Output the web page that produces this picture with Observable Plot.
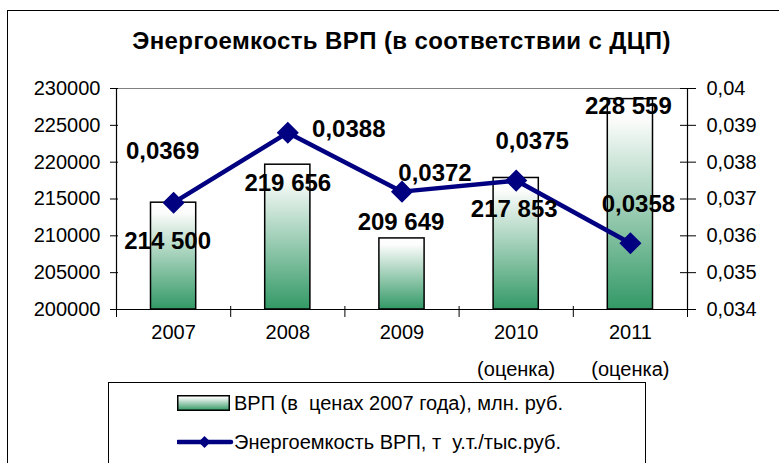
<!DOCTYPE html>
<html><head><meta charset="utf-8">
<script src="https://cdn.jsdelivr.net/npm/d3@7"></script>
<script src="https://cdn.jsdelivr.net/npm/@observablehq/plot@0.6"></script>
<style>
body{margin:0;background:#fff;font-family:"Liberation Sans",Arial,sans-serif;}
#wrap{position:relative;width:779px;height:463px;overflow:hidden;background:#fff;}
#frame{position:absolute;left:7px;top:10px;width:800px;height:500px;border:1.5px solid #000;box-sizing:border-box;pointer-events:none;}
#title{position:absolute;left:0;top:29px;width:803px;text-align:center;font-weight:bold;font-size:24px;letter-spacing:0.4px;line-height:24px;color:#000;}
#chart{position:absolute;left:0;top:0;}
#legend{position:absolute;left:108px;top:382px;width:538px;height:120px;border:1px solid #000;box-sizing:border-box;background:#fff;}
.item{position:absolute;left:68px;height:20px;display:flex;align-items:center;font-size:20px;white-space:pre;color:#000;}
</style></head>
<body>
<svg width="0" height="0" style="position:absolute">
  <defs>
    <linearGradient id="barGrad" x1="0" y1="0" x2="0" y2="1">
      <stop offset="0" stop-color="#ffffff"/>
      <stop offset="0.1" stop-color="#fbfcfb"/>
      <stop offset="1" stop-color="#339966"/>
    </linearGradient>
  </defs>
</svg>
<div id="wrap">
  <div id="chart"></div>
  <div id="title">Энергоемкость ВРП (в соответствии с ДЦП)</div>
  <div id="legend">
    <div class="item" style="top:10px"><svg width="57" height="16"><rect x="0.75" y="0.75" width="51.5" height="14.5" fill="url(#barGrad)" stroke="#000" stroke-width="1.5"/></svg><span>ВРП (в  ценах 2007 года), млн. руб.</span></div>
    <div class="item" style="top:49px"><svg width="57" height="20"><line x1="1" y1="10" x2="54" y2="10" stroke="#000080" stroke-width="4.5" stroke-linecap="round"/><path d="M27.5,4 L33.5,10 L27.5,16 L21.5,10 Z" fill="#000080"/></svg><span>Энергоемкость ВРП, т  у.т./тыс.руб.</span></div>
  </div>
  <div id="frame"></div>
</div>
<script>
const categories = ["2007", "2008", "2009", "2010\n(оценка)", "2011\n(оценка)"];
const grp = [214500, 219656, 209649, 217853, 228559];
const energy = [0.0369, 0.0388, 0.0372, 0.0375, 0.0358];
const leftTicks = [200000, 205000, 210000, 215000, 220000, 225000, 230000];
const rightTicks = [0.034, 0.035, 0.036, 0.037, 0.038, 0.039, 0.04];
// label nudges (pixels) as in the reference's manually placed labels
const barLabelNudge = [[-6, 39], [0, 19], [-1, -16], [-2, 31], [-2, 7]];
const lineLabelNudge = [[-11, -51], [61, -3], [33, -18], [16, -39], [8, -39]];

const rows = categories.map((c, i) => ({i, c, grp: grp[i], e: energy[i]}));
const y0 = leftTicks[0], y1 = leftTicks[leftTicks.length - 1];
const e0 = rightTicks[0], e1 = rightTicks[rightTicks.length - 1];
const toLeft = v => y0 + (v - e0) / (e1 - e0) * (y1 - y0);
const toRight = v => e0 + (v - y0) / (y1 - y0) * (e1 - e0);
const fmtRight = v => String(+v.toFixed(4)).replace(".", ",");
const fmtGrp = v => d3.format(",")(v).replace(/,/g, " ");
const fmtE = v => String(v).replace(".", ",");
const n = categories.length;

const chart = Plot.plot({
  width: 779,
  height: 463,
  marginLeft: 116,
  marginRight: 92,
  marginTop: 88,
  marginBottom: 154,
  style: {background: "transparent", fontFamily: "'Liberation Sans', Arial, sans-serif", fontSize: "20px", color: "#000"},
  x: {domain: [0, n], label: null},
  y: {domain: [y0, y1], label: null},
  marks: [
    Plot.ruleY([y1], {stroke: "#808080", strokeWidth: 1}),
    Plot.rectY(rows, {x1: d => d.i, x2: d => d.i + 1, y1: () => y0, y2: "grp", insetLeft: 34.5, insetRight: 34.5, fill: "url(#barGrad)", stroke: "#000", strokeWidth: 1.5}),
    Plot.ruleX([0, n], {stroke: "#000", strokeWidth: 1.2}),
    Plot.ruleY([y0], {stroke: "#000", strokeWidth: 1.2}),
    Plot.axisY(leftTicks, {anchor: "left", tickSize: 8, dx: 2, tickPadding: 10, fontSize: 20, tickFormat: d => String(d), label: null}),
    Plot.axisY(rightTicks.map(toLeft), {anchor: "right", tickSize: 16, dx: -8, tickPadding: 11, fontSize: 20, tickFormat: d => fmtRight(toRight(d)), label: null}),
    Plot.axisX(d3.range(n + 1), {anchor: "bottom", tickSize: 11, dy: -3, tickFormat: () => "", label: null}),
    Plot.axisX(rows.map(d => d.i + 0.5), {anchor: "bottom", tickSize: 0, tickPadding: 3, fontSize: 20, lineHeight: 1.85, tickFormat: d => categories[Math.floor(d)], label: null}),
    Plot.line(rows, {x: d => d.i + 0.5, y: d => toLeft(d.e), stroke: "#000080", strokeWidth: 4.5}),
    Plot.dot(rows, {x: d => d.i + 0.5, y: d => toLeft(d.e), symbol: "diamond2", r: 9, fill: "#000080", stroke: "#000080"}),
    ...rows.map((d, k) => Plot.text([d], {x: r => r.i + 0.5, y: "grp", text: r => fmtGrp(r.grp), dx: barLabelNudge[k][0], dy: barLabelNudge[k][1], fontSize: 24, fontWeight: "bold", fill: "#000"})),
    ...rows.map((d, k) => Plot.text([d], {x: r => r.i + 0.5, y: r => toLeft(r.e), text: r => fmtE(r.e), dx: lineLabelNudge[k][0], dy: lineLabelNudge[k][1], fontSize: 24, fontWeight: "bold", fill: "#000"}))
  ]
});
document.getElementById("chart").appendChild(chart);
</script>
</body></html>
